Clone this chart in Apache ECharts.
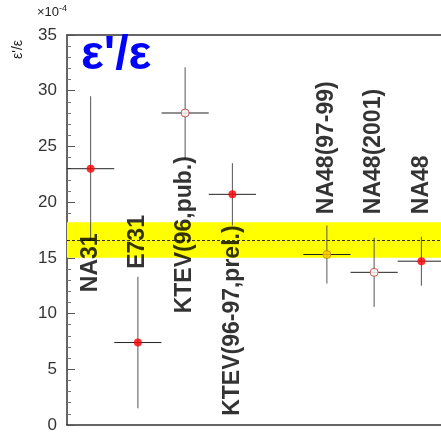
<!DOCTYPE html>
<html>
<head>
<meta charset="utf-8">
<script src="https://cdn.jsdelivr.net/npm/echarts@6/dist/echarts.min.js"></script>
<style>
  html, body { margin: 0; padding: 0; background: #fff; }
  #chart { width: 441px; height: 433px; }
</style>
</head>
<body>
<div id="chart"></div>
<script>
// measurements of eps'/eps (units of 1e-4)
const experiments = ['NA31', 'E731', 'KTEV(96,pub.)', 'KTEV(96-97,prel.)', 'NA48(97-99)', 'NA48(2001)', 'NA48'];
const xPos = [0.5, 1.5, 2.5, 3.5, 5.5, 6.5, 7.5];
const values = [23.0, 7.4, 28.0, 20.7, 15.3, 13.7, 14.7];
const errors = [6.5, 5.9, 4.1, 2.8, 2.6, 3.1, 2.2];
const xHalfWidth = [0.5, 0.5, 0.5, 0.5, 0.5, 0.5, 0.5];
const markerKind = ['filled', 'filled', 'open', 'filled', 'gold', 'open', 'filled'];
// where each rotated label starts (bottom end of the text)
const labelBase = [12.1, 14.2, 10.2, 1.0, 19.1, 19.1, 19.1];

const worldAverage = 16.6;
const worldAverageErr = 1.6;

const markerStyles = {
  filled: { color: '#ff0000', borderColor: '#ff0000', borderWidth: 0 },
  open: { color: '#ffffff', borderColor: '#c03030', borderWidth: 1 },
  gold: { color: '#ffcc00', borderColor: '#c08000', borderWidth: 1 }
};

const chart = echarts.init(document.getElementById('chart'));

const errData = experiments.map((n, i) => [xPos[i], values[i], xHalfWidth[i], errors[i]]);
const pointData = experiments.map((n, i) => ({
  value: [xPos[i], values[i]],
  itemStyle: markerStyles[markerKind[i]]
}));
const labelData = experiments.map((n, i) => ({ name: n, value: [xPos[i], labelBase[i]] }));

const option = {
  animation: false,
  title: {
    text: "ε'/ε",
    left: 76,
    top: 27,
    textStyle: { color: '#0000ff', fontSize: 48, fontWeight: 'bold', fontFamily: 'Liberation Sans, Arial, sans-serif' }
  },
  grid: { left: 67, right: -4, top: 35, bottom: 8, containLabel: false, outerBoundsMode: 'none' },
  xAxis: [
    {
      type: 'value', min: 0, max: 8, position: 'bottom',
      axisLine: { show: true, onZero: false, lineStyle: { color: '#333', width: 1.5 } },
      axisTick: { show: false }, axisLabel: { show: false }, splitLine: { show: false }
    },
    {
      type: 'value', min: 0, max: 8, position: 'top',
      axisLine: { show: true, onZero: false, lineStyle: { color: '#333', width: 1.5 } },
      axisTick: { show: false }, axisLabel: { show: false }, splitLine: { show: false }
    }
  ],
  yAxis: {
    type: 'value', min: 0, max: 35, interval: 5,
    axisLine: { show: true, onZero: false, lineStyle: { color: '#333', width: 1.5 } },
    axisTick: { show: true, inside: true, length: 8, lineStyle: { color: '#555' } },
    minorTick: { show: true, splitNumber: 5, length: 4, lineStyle: { color: '#777' } },
    axisLabel: { color: '#333', fontSize: 17, margin: 10, fontFamily: 'Liberation Sans, Arial, sans-serif' },
    splitLine: { show: false }
  },
  graphic: [
    {
      type: 'text', left: 37, top: 4,
      style: {
        text: '×10{s|-4}',
        rich: { s: { fontSize: 9, verticalAlign: 'top', padding: [0, 0, 8, 0] } },
        font: '13px Liberation Sans, Arial, sans-serif', fill: '#222'
      }
    },
    {
      type: 'text', x: 11, y: 59, rotation: Math.PI / 2,
      style: { text: "ε'/ε", font: '14px Liberation Sans, Arial, sans-serif', fill: '#222' }
    }
  ],
  series: [
    {
      type: 'line', data: [], z: 1, silent: true,
      markArea: {
        silent: true,
        itemStyle: { color: '#ffff00' },
        data: [[{ yAxis: worldAverage - worldAverageErr }, { yAxis: worldAverage + worldAverageErr }]]
      },
      markLine: {
        silent: true, symbol: ['none', 'none'], label: { show: false },
        lineStyle: { color: '#333', type: [3, 2], width: 1 },
        data: [{ yAxis: worldAverage }]
      }
    },
    {
      type: 'custom', z: 3, silent: true,
      data: errData,
      renderItem: function (params, api) {
        const x = api.value(0), y = api.value(1), ex = api.value(2), ey = api.value(3);
        const l = api.coord([x - ex, y]), r = api.coord([x + ex, y]);
        const t = api.coord([x, y + ey]), b = api.coord([x, y - ey]);
        return {
          type: 'group',
          children: [
            { type: 'line', shape: { x1: l[0], y1: l[1], x2: r[0], y2: r[1] }, style: { stroke: '#222', lineWidth: 1 } },
            { type: 'line', shape: { x1: t[0], y1: t[1], x2: b[0], y2: b[1] }, style: { stroke: '#555', lineWidth: 1 } }
          ]
        };
      }
    },
    {
      type: 'scatter', z: 4, symbol: 'circle', symbolSize: 8, silent: true,
      data: pointData
    },
    {
      type: 'scatter', z: 5, symbolSize: 0, silent: true,
      data: labelData,
      label: {
        show: true, formatter: '{b}', position: [0, 0], rotate: 90,
        align: 'left', verticalAlign: 'middle', offset: [-2, 0],
        color: '#000', fontSize: 23, fontWeight: 'bold', fontFamily: 'Liberation Sans, Arial, sans-serif'
      }
    }
  ]
};

chart.setOption(option);
</script>
</body>
</html>
